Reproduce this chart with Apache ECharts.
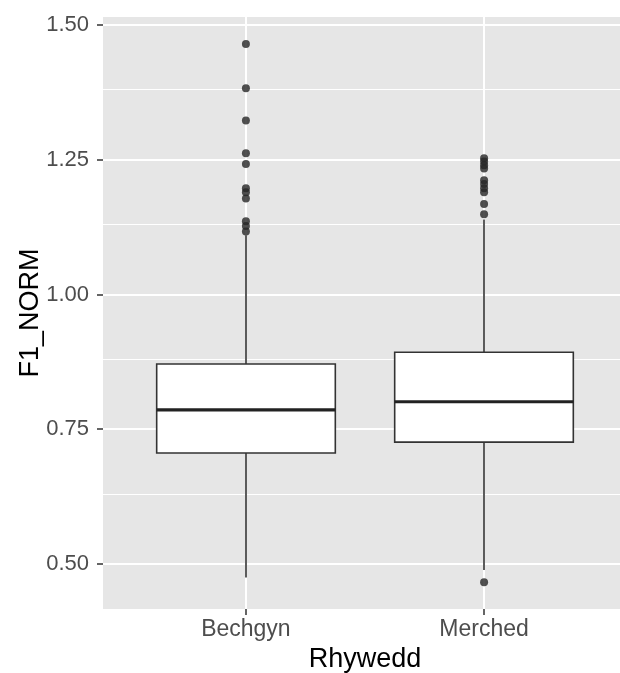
<!DOCTYPE html>
<html>
<head>
<meta charset="utf-8">
<script src="https://cdn.jsdelivr.net/npm/echarts@6/dist/echarts.min.js"></script>
<style>
  html, body { margin: 0; padding: 0; background: #ffffff; }
  #chart { width: 620px; height: 673px; }
</style>
</head>
<body>
<div id="chart"></div>
<script>
// F1_NORM by Rhywedd: box statistics and outliers
const groups = ['Bechgyn', 'Merched'];
const whiskerLow = [0.475, 0.489];
const quartile1 = [0.706, 0.726];
const medians = [0.786, 0.801];
const quartile3 = [0.871, 0.893];
const whiskerHigh = [1.110, 1.139];
const outliersBechgyn = [1.465, 1.383, 1.323, 1.262, 1.242, 1.197, 1.190, 1.178, 1.136, 1.127, 1.117];
const outliersMerched = [1.253, 1.247, 1.240, 1.234, 1.212, 1.205, 1.197, 1.190, 1.168, 1.149, 0.466];
const yTicks = [0.5, 0.75, 1.0, 1.25, 1.5];
const yMinorTicks = [0.625, 0.875, 1.125, 1.375];
const yRange = [0.4164, 1.515];

// Discrete x scale: each group is 5 slots wide, with 0.6 of a group of padding on each side
const SLOTS_PER_GROUP = 5;
const PAD_SLOTS = 3;
const BOX_FRACTION = 0.75;
const groupSlot = groups.map((g, i) => PAD_SLOTS + i * SLOTS_PER_GROUP);
const slotCount = PAD_SLOTS * 2 + (groups.length - 1) * SLOTS_PER_GROUP + 1;
const slotNames = [];
for (let s = 0; s < slotCount; s++) {
  const gi = groupSlot.indexOf(s);
  slotNames.push(gi >= 0 ? groups[gi] : 'slot' + s);
}
const isGroupSlot = (idx) => groupSlot.indexOf(idx) >= 0;

const boxRows = groups.map((g, i) => [groupSlot[i], whiskerLow[i], quartile1[i], medians[i], quartile3[i], whiskerHigh[i]]);
const outlierPoints = []
  .concat(outliersBechgyn.map(v => [groupSlot[0], v]))
  .concat(outliersMerched.map(v => [groupSlot[1], v]));

const INK = '#333333';
const FONT = 'Liberation Sans, Arial, Helvetica, sans-serif';

const chart = echarts.init(document.getElementById('chart'), null, { renderer: 'canvas' });

function renderBox(params, api) {
  const x = api.value(0);
  const lo = api.coord([x, api.value(1)]);
  const q1 = api.coord([x, api.value(2)]);
  const md = api.coord([x, api.value(3)]);
  const q3 = api.coord([x, api.value(4)]);
  const hi = api.coord([x, api.value(5)]);
  const nextSlot = api.coord([x + 1, api.value(1)]);
  const slotWidth = Math.abs(nextSlot[0] - lo[0]);
  const half = slotWidth * SLOTS_PER_GROUP * BOX_FRACTION / 2;
  const cx = Math.round(lo[0]);
  return {
    type: 'group',
    children: [
      { type: 'line', shape: { x1: cx, y1: q3[1], x2: cx, y2: hi[1] }, style: { stroke: INK, lineWidth: 1.6 } },
      { type: 'line', shape: { x1: cx, y1: q1[1], x2: cx, y2: lo[1] }, style: { stroke: INK, lineWidth: 1.6 } },
      { type: 'rect', shape: { x: cx - half, y: q3[1], width: half * 2, height: q1[1] - q3[1] },
        style: { fill: '#ffffff', stroke: INK, lineWidth: 1.6 } },
      { type: 'line', shape: { x1: cx - half, y1: md[1], x2: cx + half, y2: md[1] }, style: { stroke: '#222222', lineWidth: 3.2 } }
    ]
  };
}

const gridLineData = yTicks.map(v => ({ yAxis: v, lineStyle: { width: 2 } }))
  .concat(yMinorTicks.map(v => ({ yAxis: v, lineStyle: { width: 1 } })))
  .concat(groups.map(g => ({ xAxis: g, lineStyle: { width: 2 } })));

chart.setOption({
  animation: false,
  grid: {
    left: 103, top: 17, width: 524, height: 592,
    show: true, backgroundColor: '#e6e6e6', borderWidth: 0,
    containLabel: false, outerBoundsMode: 'none'
  },
  xAxis: {
    type: 'category',
    data: slotNames,
    boundaryGap: false,
    name: 'Rhywedd',
    nameLocation: 'middle',
    nameGap: 37,
    nameMoveOverlap: false,
    nameTextStyle: { color: '#000000', fontSize: 27, fontFamily: FONT },
    axisLine: { show: false },
    axisTick: { show: true, interval: (idx) => isGroupSlot(idx), length: 6, lineStyle: { color: INK, width: 1.5 } },
    axisLabel: { interval: (idx) => isGroupSlot(idx), margin: 9, color: '#4d4d4d', fontSize: 23, fontFamily: FONT },
    splitLine: { show: false }
  },
  yAxis: {
    type: 'value',
    min: yRange[0],
    max: yRange[1],
    name: 'F1_NORM',
    nameLocation: 'middle',
    nameRotate: 90,
    nameGap: 59,
    nameMoveOverlap: false,
    nameTextStyle: { color: '#000000', fontSize: 27, fontFamily: FONT },
    axisLine: { show: false },
    axisTick: { show: true, customValues: yTicks, length: 6, lineStyle: { color: INK, width: 1.5 } },
    axisLabel: { customValues: yTicks, formatter: (v) => v.toFixed(2), margin: 14, color: '#4d4d4d', fontSize: 22, fontFamily: FONT },
    splitLine: { show: false }
  },
  series: [
    {
      // panel grid lines
      type: 'scatter',
      data: [],
      z: 1,
      silent: true,
      markLine: {
        z: 1,
        silent: true,
        symbol: ['none', 'none'],
        label: { show: false },
        lineStyle: { color: '#ffffff', type: 'solid' },
        data: gridLineData,
        animation: false
      }
    },
    {
      type: 'custom',
      z: 8,
      data: boxRows,
      encode: { x: 0, y: [1, 2, 3, 4, 5] },
      renderItem: renderBox
    },
    {
      type: 'scatter',
      z: 9,
      data: outlierPoints,
      symbol: 'circle',
      symbolSize: 8,
      itemStyle: { color: '#262626' }
    }
  ]
});
</script>
</body>
</html>
